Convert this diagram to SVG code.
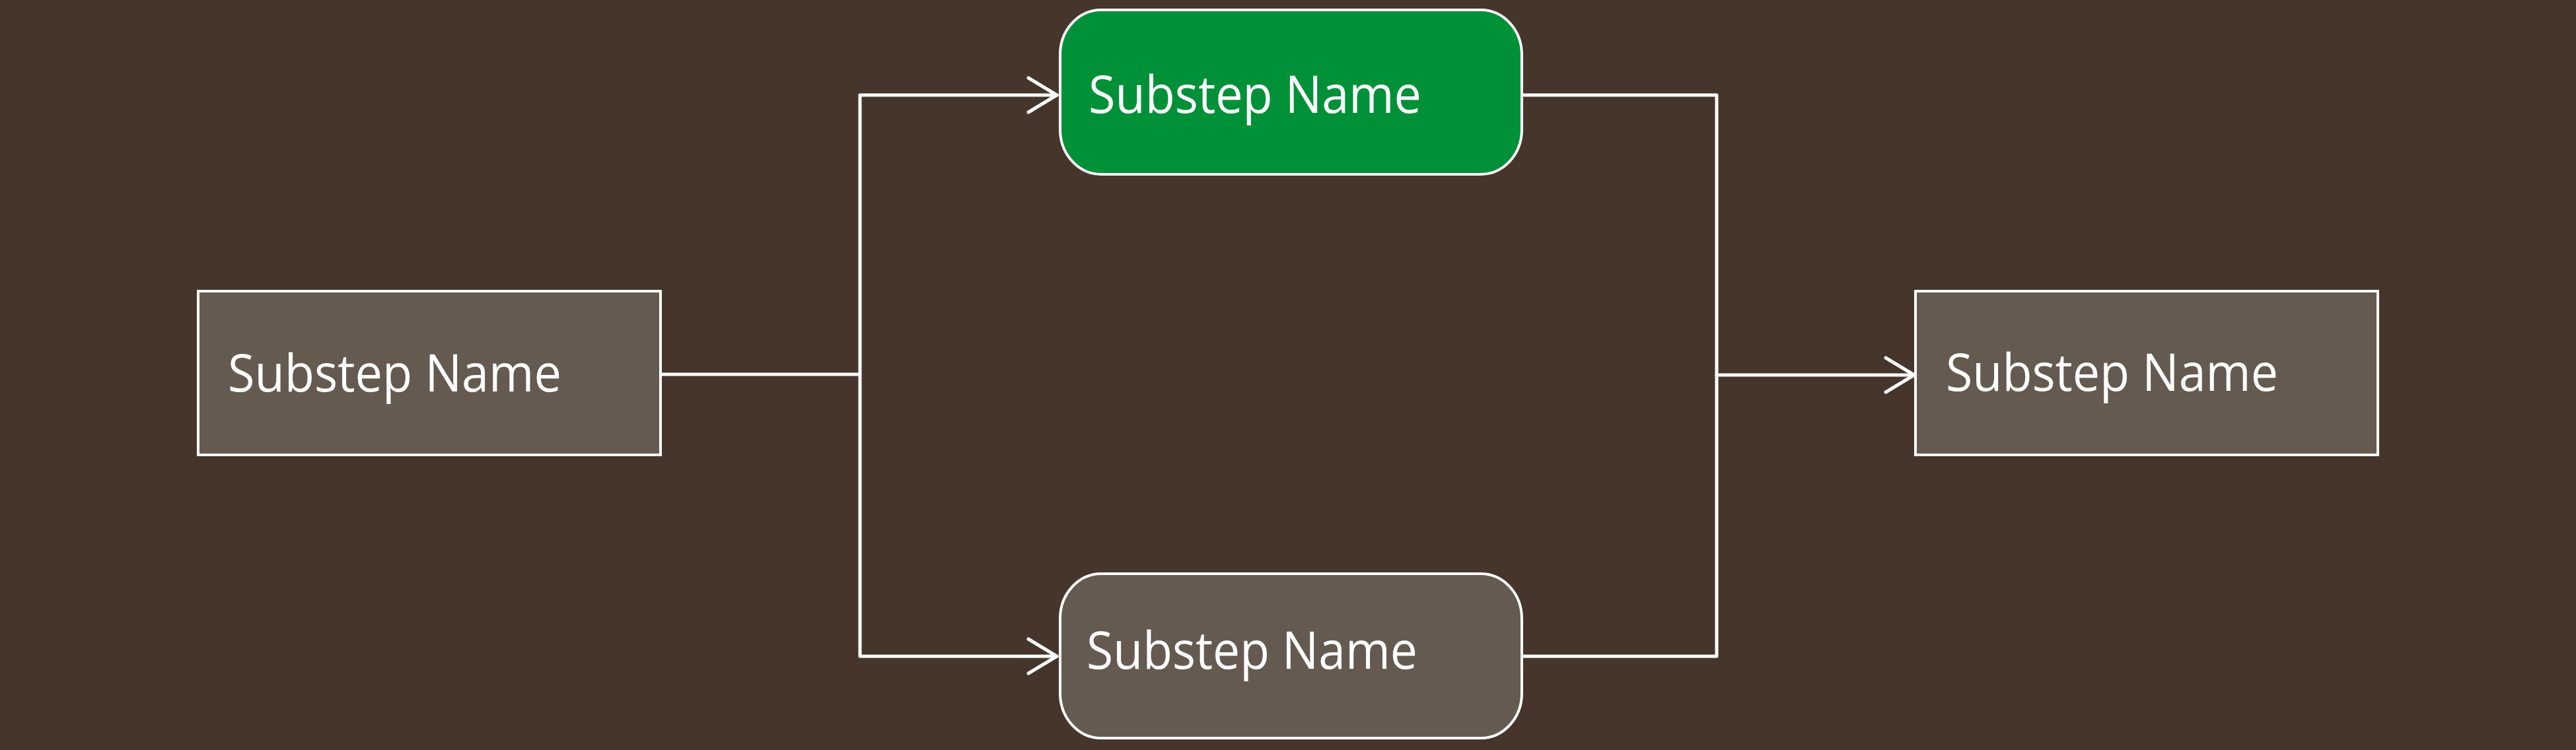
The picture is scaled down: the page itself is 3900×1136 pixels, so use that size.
<svg xmlns="http://www.w3.org/2000/svg" width="3900" height="1136" viewBox="0 0 3900 1136">
<defs>
<style>
.box{fill:#655A50;stroke:#FFFFFF;stroke-width:4}
.green{fill:#009138;stroke:#FFFFFF;stroke-width:4}
.lbl{font-family:"Open Sans","Noto Sans","DejaVu Sans",sans-serif;font-size:78px;fill:#FFFFFF}
.conn{fill:none;stroke:#FFFFFF;stroke-width:5;stroke-linejoin:round;stroke-linecap:round}
</style>
<marker id="arrow" viewBox="0 0 12 16" refX="11" refY="8" markerWidth="12" markerHeight="16" markerUnits="userSpaceOnUse" orient="auto" overflow="visible">
<path d="M-32,-18 L11,8 L-32,34" fill="none" stroke="#FFFFFF" stroke-width="5" stroke-linecap="round" stroke-linejoin="round"/>
</marker>
</defs>
<rect width="3900" height="1136" fill="#45352A"/>
<g id="connectors">
<path class="conn" d="M1000,567 L1302,567 L1302,144 L1600,144" marker-end="url(#arrow)"/>
<path class="conn" d="M1302,567 L1302,994 L1600,994" marker-end="url(#arrow)"/>
<path class="conn" d="M2304,144 L2599,144 L2599,994 L2304,994"/>
<path class="conn" d="M2599,568 L2898,568" marker-end="url(#arrow)"/>
</g>
<g id="node-start">
<rect class="box" x="300" y="441" width="700" height="248"/>
<text class="lbl" x="345" y="593" textLength="505" lengthAdjust="spacingAndGlyphs">Substep Name</text>
</g>
<g id="node-top">
<rect class="green" x="1605" y="15" width="699" height="249" rx="62" ry="68"/>
<text class="lbl" x="1648" y="171" textLength="504" lengthAdjust="spacingAndGlyphs">Substep Name</text>
</g>
<g id="node-bottom">
<rect class="box" x="1605" y="869" width="699" height="249" rx="62" ry="68"/>
<text class="lbl" x="1645" y="1013" textLength="501" lengthAdjust="spacingAndGlyphs">Substep Name</text>
</g>
<g id="node-end">
<rect class="box" x="2900" y="441" width="700" height="248"/>
<text class="lbl" x="2946" y="592" textLength="503" lengthAdjust="spacingAndGlyphs">Substep Name</text>
</g>
</svg>
